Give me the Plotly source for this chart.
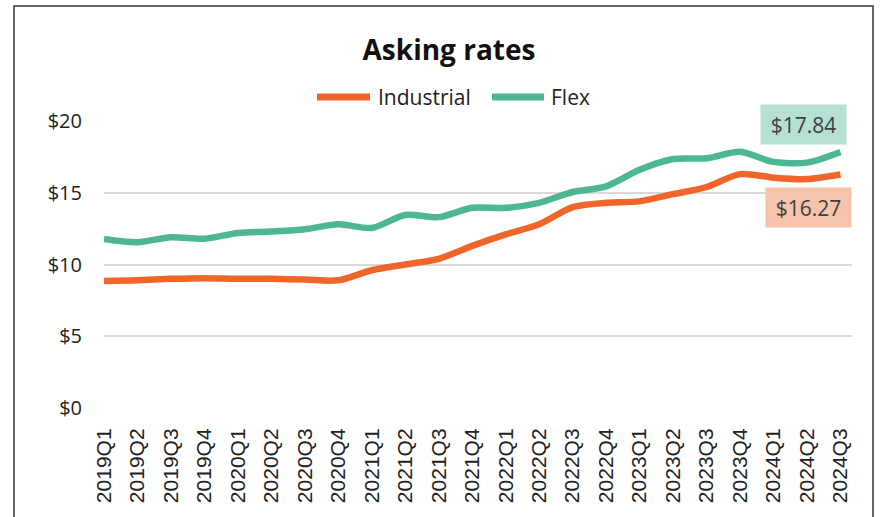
import plotly.graph_objects as go

quarters = ["2019Q1","2019Q2","2019Q3","2019Q4","2020Q1","2020Q2","2020Q3","2020Q4",
            "2021Q1","2021Q2","2021Q3","2021Q4","2022Q1","2022Q2","2022Q3","2022Q4",
            "2023Q1","2023Q2","2023Q3","2023Q4","2024Q1","2024Q2","2024Q3"]
industrial = [8.85, 8.9, 9.0, 9.05, 9.0, 9.0, 8.95, 8.9,
              9.6, 10.0, 10.4, 11.3, 12.1, 12.8, 14.0, 14.3,
              14.4, 14.9, 15.4, 16.3, 16.05, 15.95, 16.27]
flex = [11.78, 11.55, 11.9, 11.8, 12.2, 12.3, 12.45, 12.8,
        12.55, 13.45, 13.3, 13.95, 13.95, 14.3, 15.05, 15.45,
        16.6, 17.35, 17.4, 17.85, 17.15, 17.1, 17.84]
ytick_vals = [0, 5, 10, 15, 20]
ytick_text = ["$0", "$5", "$10", "$15", "$20"]
series_names = ["Industrial", "Flex"]

ORANGE = "#F0662A"
GREEN = "#4DB695"

fig = go.Figure()
fig.add_trace(go.Scatter(x=quarters, y=industrial, name=series_names[0], mode="lines",
                         line=dict(color=ORANGE, width=6.5, shape="spline", smoothing=0.8)))
fig.add_trace(go.Scatter(x=quarters, y=flex, name=series_names[1], mode="lines",
                         line=dict(color=GREEN, width=6.5, shape="spline", smoothing=0.8)))

fig.add_annotation(x=quarters[-1], y=flex[-1], text=f"${flex[-1]:.2f}", showarrow=False,
                   xshift=-37, yshift=28, bgcolor="#B5E0D3", width=83, height=37,
                   font=dict(family="Open Sans", size=21, color="#404040"))
fig.add_annotation(x=quarters[-1], y=industrial[-1], text=f"${industrial[-1]:.2f}", showarrow=False,
                   xshift=-32, yshift=-33, bgcolor="#F8C3AB", width=83, height=37,
                   font=dict(family="Open Sans", size=21, color="#404040"))

L, R, T, B = 104, 33, 121, 109
pw = 885 - L - R
ph = 517 - T - B
def px(x): return (x - L) / pw
def py(y): return (517 - B - y) / ph

fig.add_shape(type="rect", xref="paper", yref="paper",
              x0=px(14), x1=px(873), y0=py(530), y1=py(6),
              line=dict(color="#333333", width=1.5), fillcolor="rgba(0,0,0,0)", layer="below")

# legend drawn manually to reproduce the long line samples
legend_items = [(series_names[0], ORANGE, 317, 370, 376), (series_names[1], GREEN, 492, 544, 549)]
for name, col, lx0, lx1, tx in legend_items:
    fig.add_shape(type="line", xref="paper", yref="paper",
                  x0=px(lx0), x1=px(lx1), y0=py(97), y1=py(97),
                  line=dict(color=col, width=7))
    fig.add_annotation(xref="paper", yref="paper", x=px(tx), y=py(97), text=name,
                       showarrow=False, xanchor="left", yanchor="middle",
                       font=dict(family="Open Sans", size=21, color="#222222"))

fig.update_layout(
    width=885, height=517,
    margin=dict(l=L, r=R, t=T, b=B),
    paper_bgcolor="white", plot_bgcolor="white",
    title=dict(text="<b>Asking rates</b>", x=449/885, xanchor="center", y=1 - 50/517, yanchor="middle",
               font=dict(family="Open Sans", size=28, color="#111111")),
    showlegend=False,
    xaxis=dict(type="category", tickangle=-90, showgrid=False, showline=False,
               tickfont=dict(family="Liberation Sans", size=21, color="#222222"),
               ticks="outside", ticklen=11, tickcolor="rgba(0,0,0,0)"),
    yaxis=dict(range=[0, 20], tickvals=ytick_vals, ticktext=ytick_text,
               gridcolor="#D9D9D9", gridwidth=1.5, zeroline=False, showline=False,
               tickfont=dict(family="Open Sans", size=20, color="#222222"),
               ticks="outside", ticklen=17, tickcolor="rgba(0,0,0,0)"),
)

fig.write_html("out.html")
